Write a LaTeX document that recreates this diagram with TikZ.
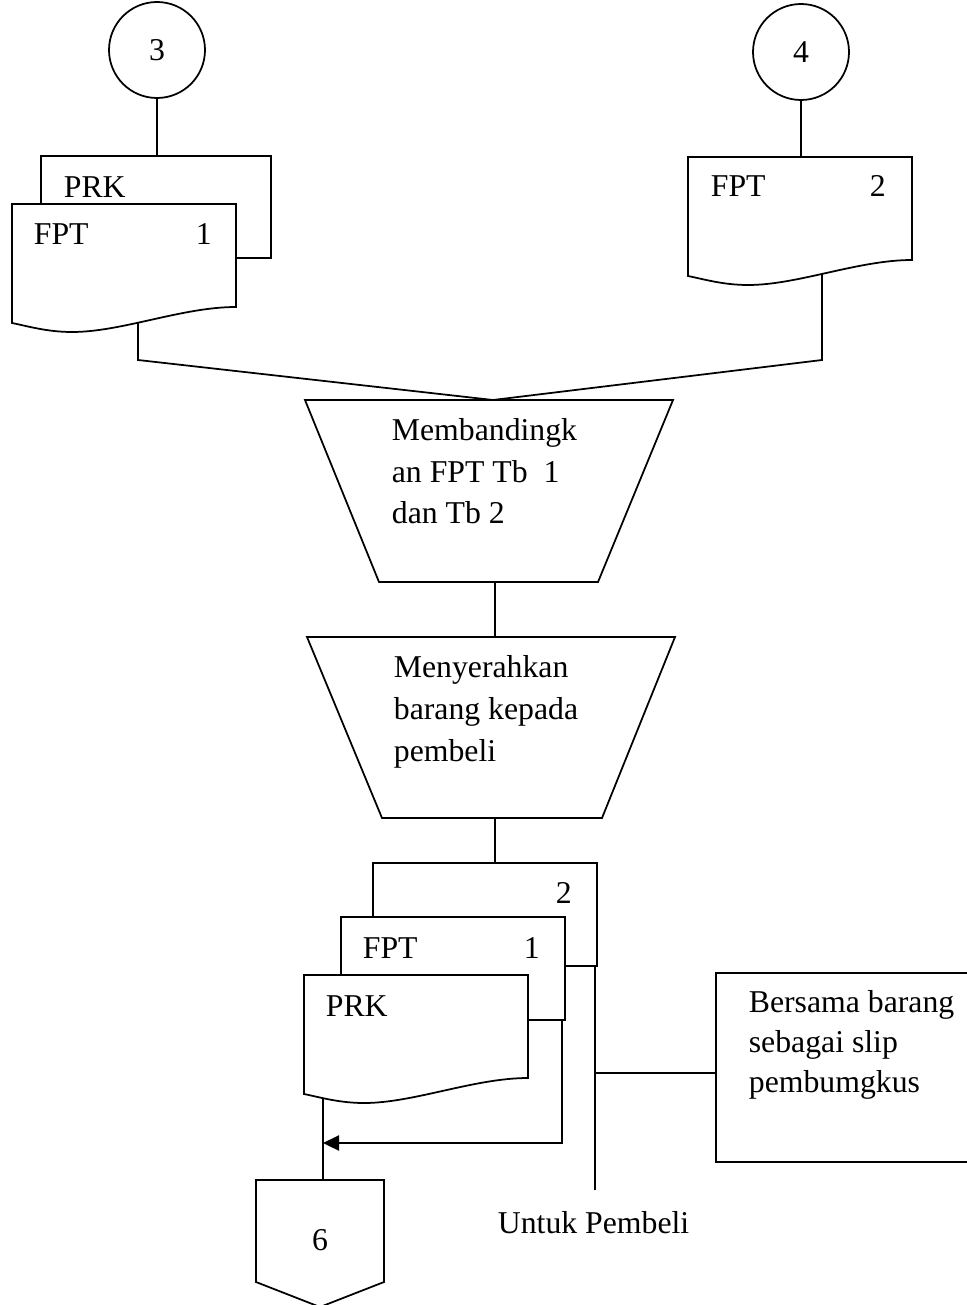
\documentclass[tikz,border=0pt]{standalone}
\usepackage{fontspec}
\setmainfont{Liberation Serif}
\usetikzlibrary{arrows.meta}
\begin{document}
\begin{tikzpicture}[x=0.4pt,y=-0.4pt,
  line width=0.7pt,
  txt/.style={anchor=base west,inner sep=0pt,font=\fontsize{12.7}{15}\selectfont},
  conn/.style={circle,draw,minimum size=38.4pt,inner sep=0pt,font=\fontsize{12.7}{15}\selectfont},
  shapeline/.style={draw,fill=white},
  docu/.pic={\path[shapeline] (0,0) -- (224,0) -- (224,103) .. controls (170,103) and (110,128) .. (60,128) .. controls (35,128) and (15,122) .. (0,119) -- cycle;}
]
\useasboundingbox (0,0) rectangle (966,1305);

% named coordinates for connectors
\coordinate (d1w) at (138,316);
\coordinate (d1b) at (138,360);
\coordinate (d2w) at (822,270);
\coordinate (d2b) at (822,360);
\coordinate (t1top) at (493,400);
\coordinate (t1bot) at (495,582);
\coordinate (t2top) at (495,637);
\coordinate (t2bot) at (495,818);
\coordinate (b2top) at (495,863);
\coordinate (midr) at (562,1018);
\coordinate (midc) at (562,1143);
\coordinate (arrt) at (323,1143);
\coordinate (prkw) at (323,1095);
\coordinate (off6) at (323,1180);
\coordinate (b2b) at (595,964);
\coordinate (b2end) at (595,1190);
\coordinate (b2mid) at (595,1073);
\coordinate (ann) at (716,1073);

% circles
\node[conn] (c3) at (157,50) {3};
\node[conn] (c4) at (801,52) {4};

% connectors
\draw (c3.south) -- (157,156);
\draw (c4.south) -- (801,157);
\draw (d1w) -- (d1b) -- (t1top);
\draw (d2w) -- (d2b) -- (t1top);
\draw (t1bot) -- (t2top);
\draw (t2bot) -- (b2top);
\draw[line width=0.9pt,-{Triangle[length=6.4pt,width=6pt]}] (midr) -- (midc) -- (arrt);
\draw (prkw) -- (off6);
\draw (b2b) -- (b2end);
\draw (b2mid) -- (ann);

% top-left document stack
\draw[shapeline] (41,156) rectangle (271,258);
\node[txt] (prk1) at (63,198) {PRK};
\pic at (12,204) {docu};
\node[txt] (fpt1) at (33,245) {FPT};
\node[txt] (n1) at (195,245) {1};

% top-right document
\pic at (688,157) {docu};
\node[txt] (fpt2) at (710,197) {FPT};
\node[txt] (n2) at (869,197) {2};

% trapezoid 1
\draw[shapeline] (305,400) -- (673,400) -- (598,582) -- (379,582) -- cycle;
\node[txt] (t1a) at (391,440) {Membandingk};
\node[txt] (t1b) at (391,482) {an FPT Tb\ \ 1};
\node[txt] (t1c) at (391,523) {dan Tb 2};

% trapezoid 2
\draw[shapeline] (307,637) -- (675,637) -- (602,818) -- (382,818) -- cycle;
\node[txt] (t2a) at (393,677) {Menyerahkan};
\node[txt] (t2b) at (393,719) {barang kepada};
\node[txt] (t2c) at (393,761) {pembeli};

% bottom document stack
\draw[shapeline] (373,863) rectangle (597,966);
\node[txt] (bn2) at (555,903) {2};
\draw[shapeline] (341,917) rectangle (565,1020);
\node[txt] (bfpt) at (362,958) {FPT};
\node[txt] (bn1) at (523,958) {1};
\pic at (304,975) {docu};
\node[txt] (bprk) at (325,1016) {PRK};

% annotation box
\draw (968,973) -- (716,973) -- (716,1162) -- (968,1162);
\node[txt] (a1) at (748,1012) {Bersama barang};
\node[txt] (a2) at (748,1052) {sebagai slip};
\node[txt] (a3) at (748,1092) {pembumgkus};

% off-page connector
\draw[shapeline] (256,1180) -- (384,1180) -- (384,1282) -- (320,1307) -- (256,1282) -- cycle;
\node[txt,anchor=base] (six) at (320,1250) {6};

% label
\node[txt] (untuk) at (497,1233) {Untuk Pembeli};
\end{tikzpicture}
\end{document}
